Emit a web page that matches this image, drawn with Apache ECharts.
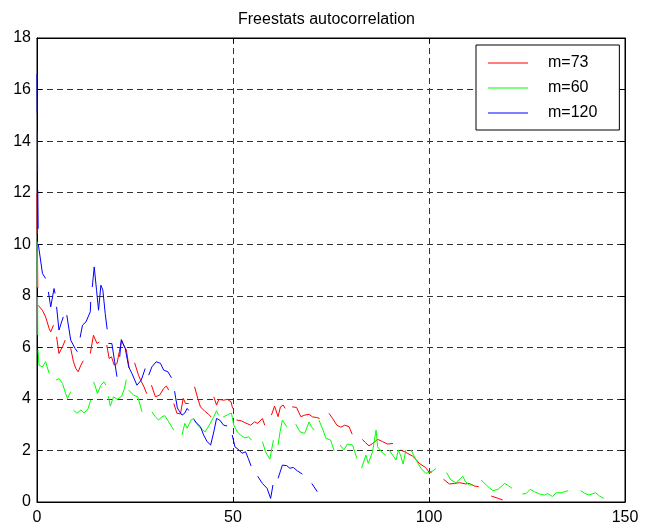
<!DOCTYPE html>
<html>
<head>
<meta charset="utf-8">
<script src="https://cdn.jsdelivr.net/npm/echarts@6/dist/echarts.min.js"></script>
<style>
html,body{margin:0;padding:0;background:#fff;}
#chart{width:653px;height:531px;}
</style>
</head>
<body>
<div id="chart"></div>
<script>
// Chart text
const chartTitle = 'Freestats autocorrelation';
const seriesNames = ['m=73', 'm=60', 'm=120'];
const seriesColors = ['#ff0000', '#00ff00', '#0000ff'];
const xTicks = [0, 50, 100, 150];
const yTicks = [0, 2, 4, 6, 8, 10, 12, 14, 16, 18];

// m=73 (red): segments of [lag, value]
const red73 = [
  [[0,11.96],[0.05,10.4]],
  [[0.1,10.0],[0.2,8.3]],
  [[0.3,7.63],[1.36,7.44],[2.2,7.18],[3.1,6.73],[3.5,6.6],[4.2,6.86]],
  [[5.0,6.41],[5.6,5.76],[6.5,6.02],[7.2,6.28]],
  [[8.6,5.96],[9.3,5.44],[9.9,5.18],[10.5,5.05],[11.2,5.31],[11.8,5.48]],
  [[13.6,5.76],[14.4,6.47],[15.3,6.15],[15.9,6.21]],
  [[17.8,6.09],[18.4,5.57],[19.0,5.63],[19.7,5.31],[20.4,5.37],[21.0,5.83],[21.6,6.28],[22.3,6.02],[22.8,5.9],[23.5,5.2]],
  [[24.9,5.4],[25.9,4.92],[26.5,4.7],[27.2,4.5],[28.0,4.2]],
  [[29.2,4.53],[30.2,4.08],[31.3,4.15],[32.3,4.4],[33.0,4.5],[33.6,4.34]],
  [[34.9,3.82],[35.7,3.44],[36.6,3.42],[37.3,4.02],[37.9,3.82],[38.7,3.82]],
  [[40.2,4.47],[41.0,4.02],[41.7,3.69],[42.8,3.52],[43.8,3.4],[44.4,3.3]],
  [[45.1,4.08],[45.8,3.76],[46.4,3.98],[47.6,3.95],[48.6,3.98],[49.5,3.89],[49.9,3.63]],
  [[50.9,3.18],[52.1,3.15],[53.0,3.08],[54.5,2.98],[55.5,3.11],[56.3,3.05],[57.5,3.24],[58.1,2.98]],
  [[59.8,3.37],[60.6,3.72],[61.5,3.31],[62.1,3.69],[62.8,3.76],[63.3,3.63]],
  [[65.1,3.69],[66.2,3.67],[67.3,3.31],[68.3,3.37],[69.4,3.4],[70.3,3.3],[71.3,3.28],[72.1,3.24]],
  [[74.5,3.44],[75.4,3.24],[76.5,2.98],[77.5,2.9],[78.5,2.98],[79.6,2.92],[80.4,2.63]],
  [[83.0,2.43],[83.8,2.3],[84.7,2.18],[85.6,2.27],[86.9,2.43],[88.2,2.34],[89.4,2.25],[90.8,2.27]],
  [[92.8,2.02],[94.5,1.89],[95.8,1.78],[96.7,1.65],[97.5,1.5],[99.1,1.34],[100.1,1.14],[100.8,1.17]],
  [[103.7,0.88],[105.2,0.7],[106.5,0.72],[107.8,0.75],[109.3,0.7],[110.3,0.72],[111.6,0.62],[112.7,0.59]],
  [[115.9,0.23],[117.1,0.17],[118.8,0.08]]
];

// m=60 (green)
const green60 = [
  [[0.05,10.1],[0.1,8.33]],
  [[0.15,7.95],[0.2,6.47]],
  [[0.26,5.9],[0.5,5.31],[1.36,5.24],[2.2,5.44],[3.1,4.99]],
  [[4.8,4.73],[5.6,4.79],[6.5,4.6],[7.3,4.21],[7.8,4.02],[8.6,4.28]],
  [[9.3,3.57],[10.2,3.44],[11.2,3.57],[12.0,3.46],[12.9,3.57],[13.7,3.95]],
  [[14.4,4.66],[14.8,4.53],[15.4,4.21],[16.3,4.53],[17.1,4.66],[17.6,4.53]],
  [[18.2,4.1],[18.7,3.72],[19.5,4.08],[20.5,3.98],[21.6,4.1],[22.3,4.4],[22.8,4.75]],
  [[23.4,4.34],[24.6,4.15],[25.7,4.08],[26.8,3.5]],
  [[29.3,3.5],[30.2,3.31],[31.0,3.18],[31.9,3.31],[32.6,3.35],[33.6,3.11],[34.9,2.79]],
  [[37.0,2.6],[37.7,3.05],[38.3,2.86],[39.3,3.18],[40.0,3.24],[40.4,3.1],[41.7,2.86],[42.9,2.72],[44.2,3.05],[45.1,3.31],[45.8,3.54],[46.3,3.37]],
  [[47.5,3.3],[48.9,3.4],[49.6,3.45],[50.2,2.98],[51.1,2.72],[51.9,2.6],[53.0,2.49],[54.0,2.53],[54.7,2.4]],
  [[57.5,2.34],[58.3,1.95],[59.4,1.66],[60.3,2.4]],
  [[61.5,2.21],[62.0,2.72],[62.6,3.18],[63.7,2.92]],
  [[66.0,3.02],[67.1,2.72],[68.3,2.66],[69.4,3.11],[70.0,2.92],[70.7,2.79]],
  [[71.9,3.18],[72.8,2.86],[73.7,2.47],[74.9,2.4],[75.8,1.99]],
  [[77.3,2.21],[78.3,2.02],[79.2,2.25],[80.5,2.21],[81.6,1.69]],
  [[82.8,1.31],[83.9,1.82],[84.5,1.5],[85.6,1.95],[86.5,2.79],[86.9,2.14],[88.2,1.89],[89.0,1.82]],
  [[89.8,2.02],[91.6,1.63],[92.2,2.02],[92.8,1.78],[93.4,1.47],[94.1,2.02]],
  [[95.4,2.02],[96.7,1.63],[98.0,1.3],[99.2,1.11],[100.0,1.15],[101.0,1.21],[101.8,1.3]],
  [[104.5,1.14],[105.6,0.85],[106.9,0.75],[108.6,1.0],[109.3,0.79],[110.3,0.66],[111.2,0.66]],
  [[113.3,0.85],[114.6,0.66],[116.3,0.44],[117.6,0.49],[119.3,0.72],[120.0,0.66],[121.2,0.53]],
  [[123.8,0.31],[124.8,0.33],[125.8,0.49],[126.9,0.4],[128.2,0.31],[129.5,0.27],[130.3,0.33],[131.5,0.21],[132.5,0.36],[133.8,0.36],[135.5,0.44]],
  [[138.7,0.44],[139.7,0.34],[140.8,0.27],[142.5,0.36],[143.5,0.23],[144.6,0.14]]
];

// m=120 (blue)
const blue120 = [
  [[0,16.6],[0.05,15.1]],
  [[0.1,14.4],[0.15,12.8]],
  [[0.2,12.1],[0.3,10.6]],
  [[0.33,10.0],[1.4,8.86],[2.2,8.67]],
  [[2.9,8.15],[3.5,7.57],[4.35,8.28],[4.6,8.09]],
  [[5.0,7.57],[5.6,6.67],[6.7,7.18]],
  [[7.6,7.25],[8.6,6.28],[9.7,5.96],[10.3,5.83]],
  [[11.0,6.38],[11.6,6.86],[12.5,6.99],[13.6,7.38],[13.7,7.76]],
  [[14.1,8.34],[14.6,9.12],[15.2,8.2],[15.7,7.44],[16.3,8.41],[16.8,8.22],[17.4,7.31],[17.9,6.7]],
  [[18.2,6.15],[19.1,6.15],[19.8,5.45],[20.4,4.86]],
  [[21.1,5.63],[21.5,6.3],[21.9,6.15],[22.5,5.96],[23.4,5.24],[24.2,4.99],[25.5,4.53],[26.6,4.73],[27.6,5.18]],
  [[28.5,4.92],[29.3,5.24],[30.4,5.44],[31.5,5.38],[32.3,5.12],[33.4,5.05],[34.3,4.82]],
  [[35.1,4.3],[35.8,3.65],[36.4,3.5],[37.0,3.37],[37.7,3.45],[38.3,3.63],[38.7,3.55]],
  [[40.0,3.2],[40.8,3.05],[41.7,2.92],[42.5,2.6],[43.4,2.34],[44.3,2.21],[45.1,2.72],[45.8,3.24],[46.6,3.18],[47.6,2.98],[48.5,2.95]],
  [[49.8,2.6],[50.5,2.14],[51.5,2.02],[52.3,1.89],[53.2,1.95],[53.9,1.69],[54.6,1.4]],
  [[56.3,1.0],[57.5,0.72],[58.7,0.53],[59.6,0.14],[60.2,0.66]],
  [[61.5,0.92],[62.6,1.43],[63.7,1.41],[64.5,1.31],[65.4,1.34],[66.4,1.21],[67.7,1.08]],
  [[70.1,0.72],[71.5,0.4]]
];

function joinSegments(segs) {
  const out = [];
  segs.forEach((s, i) => {
    if (i > 0) out.push([s[0][0], '-']);
    s.forEach(p => out.push(p));
  });
  return out;
}

const font = 'Liberation Sans, Arial, Helvetica, sans-serif';
const chart = echarts.init(document.getElementById('chart'), null, {renderer: 'canvas'});

const dataSets = [red73, green60, blue120];
const series = dataSets.map((segs, i) => ({
  name: seriesNames[i],
  type: 'line',
  xAxisIndex: 0,
  yAxisIndex: 0,
  data: joinSegments(segs),
  showSymbol: false,
  symbol: 'none',
  connectNulls: false,
  animation: false,
  lineStyle: {color: seriesColors[i], width: 1},
  itemStyle: {color: seriesColors[i]},
  z: 3
}));

const axisCommon = {
  type: 'value',
  axisLine: {show: true, onZero: false, lineStyle: {color: '#000', width: 1}},
  axisTick: {show: true, inside: true, length: 5, lineStyle: {color: '#000'}},
  splitLine: {show: true, lineStyle: {color: '#333', type: [6, 4], width: 1}},
  axisLabel: {color: '#000', fontFamily: font, fontSize: 16}
};

chart.setOption({
  animation: false,
  backgroundColor: '#fff',
  title: {
    text: chartTitle,
    left: 'center',
    top: 7,
    textStyle: {fontFamily: font, fontSize: 16, fontWeight: 'normal', color: '#000'}
  },
  grid: {left: 37, top: 38, width: 588, height: 464, show: true, borderColor: '#000', borderWidth: 1, backgroundColor: 'transparent'},
  legend: {
    data: seriesNames,
    orient: 'vertical',
    left: 476,
    top: 45,
    padding: [9, 22, 8, 12],
    itemWidth: 40,
    itemHeight: 1.2,
    itemGap: 7,
    icon: 'rect',
    backgroundColor: '#fff',
    borderColor: '#000',
    borderWidth: 1,
    textStyle: {fontFamily: font, fontSize: 16, color: '#000', lineHeight: 18, padding: [0, 0, 0, 15]}
  },
  xAxis: [
    Object.assign({}, axisCommon, {
      position: 'bottom', min: 0, max: 150, interval: 50,
      axisLabel: Object.assign({}, axisCommon.axisLabel, {margin: 8, formatter: v => (xTicks.indexOf(v) >= 0 ? String(v) : '')})
    }),
    Object.assign({}, axisCommon, {
      position: 'top', min: 0, max: 150, interval: 50,
      axisLabel: {show: false}, splitLine: {show: false}
    })
  ],
  yAxis: [
    Object.assign({}, axisCommon, {
      position: 'left', min: 0, max: 18, interval: 2,
      axisLabel: Object.assign({}, axisCommon.axisLabel, {margin: 6, formatter: v => (yTicks.indexOf(v) >= 0 ? String(v) : '')})
    }),
    Object.assign({}, axisCommon, {
      position: 'right', min: 0, max: 18, interval: 2,
      axisLabel: {show: false}, splitLine: {show: false}
    })
  ],
  series: series
});
</script>
</body>
</html>
